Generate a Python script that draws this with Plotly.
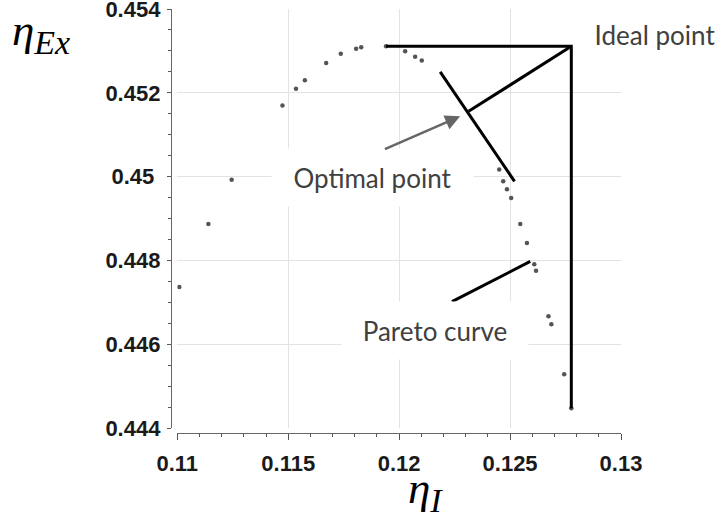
import plotly.graph_objects as go

# ---- data ----
eta_I = [0.11009, 0.11140, 0.11245, 0.11474, 0.11535, 0.11575, 0.11671, 0.11737,
         0.11806, 0.11829, 0.11941, 0.12027, 0.12072, 0.12102, 0.12451, 0.12469,
         0.12486, 0.12505, 0.12546, 0.12576, 0.12609, 0.12617, 0.12673, 0.12686,
         0.12744, 0.12776]
eta_Ex = [0.44737, 0.44887, 0.44993, 0.45170, 0.45210, 0.45230, 0.45271, 0.45293,
          0.45305, 0.45309, 0.45311, 0.45299, 0.45286, 0.45277, 0.45017, 0.44989,
          0.44970, 0.44949, 0.44887, 0.44842, 0.44791, 0.44776, 0.44667, 0.44648,
          0.44529, 0.44448]

optimal_point = [0.12313, 0.45156]
tangent_I = [0.12185, 0.12520]
tangent_Ex = [0.45250, 0.44989]
pareto_pointer_I = [0.12238, 0.12591]
pareto_pointer_Ex = [0.44702, 0.44798]
arrow_tail = [0.11929, 0.45064]
arrow_tip = [0.12275, 0.45144]

x_tickvals = [0.11, 0.115, 0.12, 0.125, 0.13]
x_ticktext = ["0.11", "0.115", "0.12", "0.125", "0.13"]
y_tickvals = [0.444, 0.446, 0.448, 0.45, 0.452, 0.454]
y_ticktext = ["0.444", "0.446", "0.448", "0.45\u2008", "0.452", "0.454"]

# derived ideal point
i_top = eta_Ex.index(max(eta_Ex))
i_right = eta_I.index(max(eta_I))
ideal = [max(eta_I), max(eta_Ex)]

fig = go.Figure()

fig.add_trace(go.Scatter(x=eta_I, y=eta_Ex, mode="markers",
                         marker=dict(color="#555555", size=4.5), showlegend=False,
                         hoverinfo="skip"))

line_style = dict(color="black", width=3)
fig.add_trace(go.Scatter(x=[eta_I[i_top], ideal[0], eta_I[i_right]],
                         y=[eta_Ex[i_top], ideal[1], eta_Ex[i_right]],
                         mode="lines", line=line_style, showlegend=False))
fig.add_trace(go.Scatter(x=[ideal[0], optimal_point[0]], y=[ideal[1], optimal_point[1]],
                         mode="lines", line=line_style, showlegend=False))
fig.add_trace(go.Scatter(x=tangent_I, y=tangent_Ex, mode="lines", line=line_style,
                         showlegend=False))
fig.add_trace(go.Scatter(x=pareto_pointer_I, y=pareto_pointer_Ex, mode="lines",
                         line=line_style, showlegend=False))

W, H = 722, 513
L, T = 171, 9
R = W - L - 450
B = H - 433
pw, ph = W - L - R, H - T - B


def px(x):
    return (x - L) / pw


def py(y):
    return (H - B - y) / ph


tick_font = dict(family="Liberation Sans", size=22, color="#1a1a1a", weight="bold")

fig.update_layout(
    width=W, height=H,
    margin=dict(l=L, r=R, t=T, b=B, pad=0, autoexpand=False),
    paper_bgcolor="white", plot_bgcolor="white",
    showlegend=False,
    xaxis=dict(range=[0.11, 0.13], domain=[(177.3 - L) / pw, 1], anchor="free", position=0,
               automargin=False, ticklabeloverflow="allow",
               tickmode="array", tickvals=x_tickvals, ticktext=x_ticktext,
               ticks="outside", ticklen=6, tickcolor="#555", tickwidth=1.2,
               showline=True, linecolor="#666", linewidth=1.3,
               showgrid=True, gridcolor="#e3e3e3", gridwidth=1,
               zeroline=False, tickfont=tick_font, ticklabelstandoff=4,
               minor=dict(dtick=0.001, tick0=0.11, ticks="outside", ticklen=3,
                          tickcolor="#555", showgrid=False)),
    yaxis=dict(range=[0.444, 0.454], domain=[(433 - 428.3) / ph, 1], anchor="free", position=0,
               automargin=False, ticklabeloverflow="allow",
               tickmode="array", tickvals=y_tickvals, ticktext=y_ticktext,
               ticks="outside", ticklen=4, tickcolor="#555", tickwidth=1.2,
               showline=True, linecolor="#666", linewidth=1.3,
               showgrid=True, gridcolor="#e3e3e3", gridwidth=1,
               zeroline=False, tickfont=tick_font, ticklabelstandoff=2,
               minor=dict(dtick=0.0005, tick0=0.444, ticks="outside", ticklen=3,
                          tickcolor="#555", showgrid=False)),
)

label_font = dict(family="Lato", size=26, color="#404040")
annos = [
    dict(text="Ideal point", x=px(655), y=py(34.5), width=136, height=55),
    dict(text="Optimal point", x=px(372.5), y=py(177.5), width=199, height=55),
    dict(text="Pareto curve", x=px(435), y=py(330.5), width=184, height=55),
]
for a in annos:
    fig.add_annotation(xref="paper", yref="paper", x=a["x"], y=a["y"], text=a["text"],
                       width=a["width"], height=a["height"], showarrow=False,
                       bgcolor="white", font=label_font, xanchor="center", yanchor="middle")

fig.add_annotation(x=arrow_tip[0], y=arrow_tip[1], ax=arrow_tail[0], ay=arrow_tail[1],
                   xref="x", yref="y", axref="x", ayref="y", text="", showarrow=True,
                   arrowhead=2, arrowsize=1.2, arrowwidth=2.5, arrowcolor="#666666")

title_font = dict(family="Liberation Serif", size=45, color="black")
sub_style = "font-style:italic;font-size:34px"
fig.add_annotation(xref="paper", yref="paper", x=px(10), y=py(33), xanchor="left",
                   yanchor="middle", showarrow=False, font=title_font,
                   text=f'<i>η</i><sub><span style="{sub_style}">Ex</span></sub>')
fig.add_annotation(xref="paper", yref="paper", x=px(406), y=py(491), xanchor="left",
                   yanchor="middle", showarrow=False, font=title_font,
                   text=f'<i>η</i><sub><span style="{sub_style}">I</span></sub>')

fig.write_html("out.html", config={"displayModeBar": False},
               post_script="document.body.style.margin='0';")
